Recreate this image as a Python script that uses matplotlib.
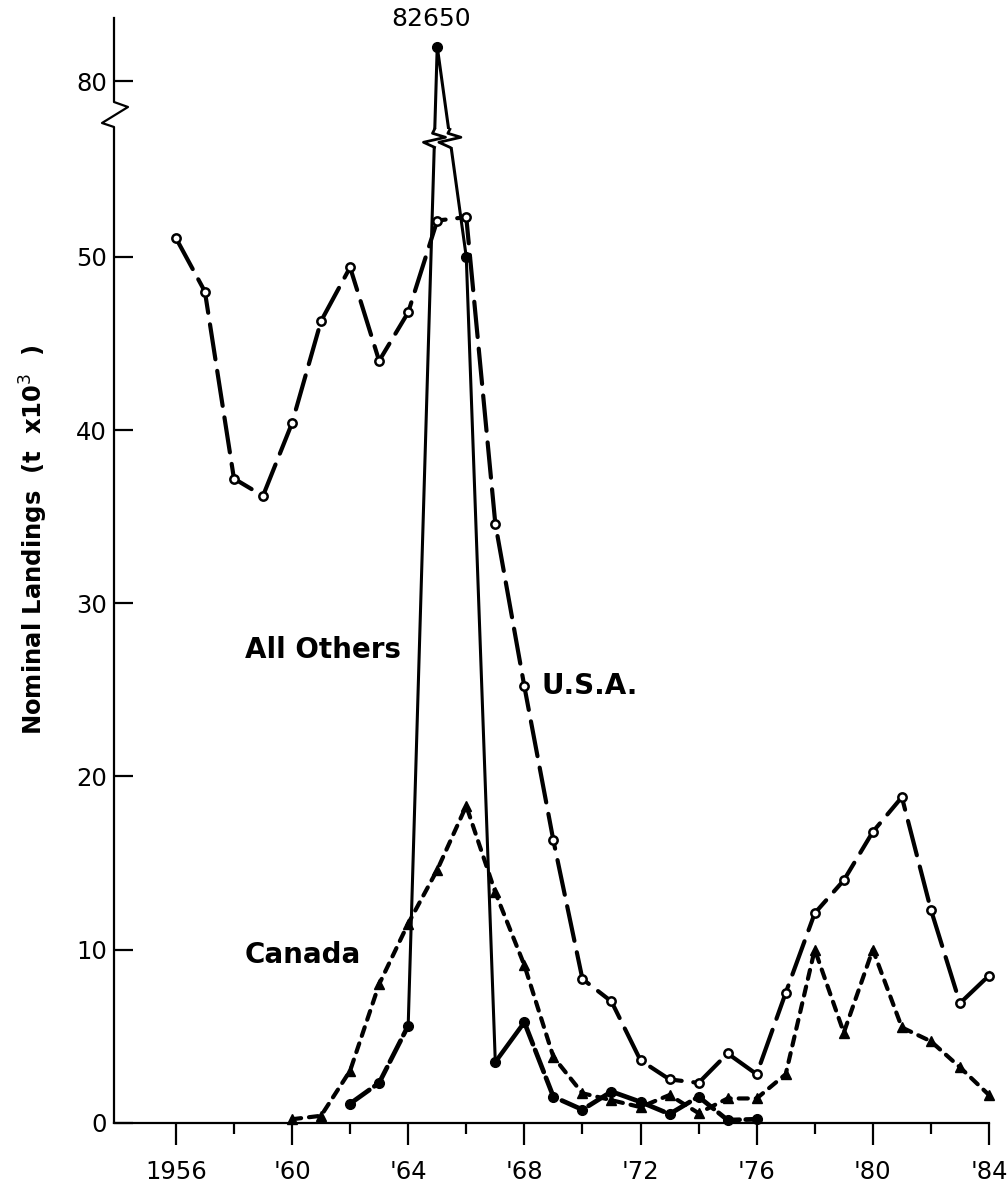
import numpy as np
import matplotlib
matplotlib.use("Agg")
import matplotlib.pyplot as plt
import matplotlib.transforms as mtransforms
from matplotlib.patches import Rectangle
from matplotlib.ticker import FixedLocator, NullLocator

# ---------------- data ----------------
usa_years = list(range(1956, 1985))
usa_vals = [51.1, 48.0, 37.2, 36.2, 40.4, 46.3, 49.4, 44.0, 46.8, 52.1,
            52.3, 34.6, 25.2, 16.3, 8.3, 7.0, 3.6, 2.5, 2.3, 4.0,
            2.8, 7.5, 12.1, 14.0, 16.8, 18.8, 12.3, 6.9, 8.5]

others_years = list(range(1962, 1977))
others_vals = [1.1, 2.3, 5.6, 82.65, 50.0, 3.5, 5.8, 1.5, 0.75, 1.8,
               1.2, 0.5, 1.5, 0.15, 0.2]

canada_years = list(range(1960, 1985))
canada_vals = [0.2, 0.4, 3.0, 8.0, 11.5, 14.6, 18.3, 13.3, 9.1, 3.8,
               1.7, 1.3, 0.9, 1.6, 0.55, 1.4, 1.4, 2.8, 10.0, 5.2,
               10.0, 5.5, 4.7, 3.2, 1.6]

xtick_years = [1956, 1960, 1964, 1968, 1972, 1976, 1980, 1984]
xtick_labels = ["1956", "'60", "'64", "'68", "'72", "'76", "'80", "'84"]
xminor_years = [1958, 1962, 1966, 1970, 1974, 1978, 1982]
ytick_vals = [0, 10, 20, 30, 40, 50, 80]
ytick_labels = ["0", "10", "20", "30", "40", "50", "80"]
peak_label = "82650"
ylabel = "Nominal Landings  (t  x10$^{3}$  )"

# ---------------- broken y scale ----------------
B1, B2, MB2, K = 58.5, 78.0, 58.62, 0.76


def fwd(v):
    v = np.asarray(v, dtype=float)
    return np.where(v <= B1, v,
                    np.where(v <= B2, B1 + (v - B1) * ((MB2 - B1) / (B2 - B1)),
                             MB2 + (v - B2) * K))


def inv(m):
    m = np.asarray(m, dtype=float)
    return np.where(m <= B1, m,
                    np.where(m <= MB2, B1 + (m - B1) * ((B2 - B1) / (MB2 - B1)),
                             B2 + (m - MB2) / K))


TOP_M = 63.8
W, H = 1007, 1190
fig = plt.figure(figsize=(W / 100, H / 100), dpi=100)
ax_l, ax_r, ax_b, ax_t = 114, 989, 1122.7, 18
ax = fig.add_axes([ax_l / W, 1 - ax_b / H, (ax_r - ax_l) / W, (ax_b - ax_t) / H])
ax.set_yscale('function', functions=(fwd, inv))
ax.set_xlim(1953.87, 1984)
ax.set_ylim(0, float(inv(TOP_M)))
axw_px = ax_r - ax_l
axh_px = ax_b - ax_t

FONT = 'DejaVu Sans'

# ---- U.S.A. ----
ax.plot(usa_years, usa_vals, color='black', lw=3, linestyle=(0, (8.5, 2.8)),
        dash_capstyle='round', marker='o', ms=6, mfc='white', mec='black',
        mew=1.8, clip_on=False, zorder=4)

# ---- Canada ----
ax.plot(canada_years, canada_vals, color='black', lw=3, linestyle=(0, (2.2, 1.9)),
        dash_capstyle='round', marker='^', ms=7, mfc='black', mec='black',
        clip_on=False, zorder=3)

# ---- All Others ----
i64 = others_years.index(1964)
i67 = others_years.index(1967)
i68 = others_years.index(1968)
ax.plot(others_years[:i64 + 1], others_vals[:i64 + 1], color='black', lw=3.4,
        linestyle=(0, (5, 1.3)), dash_capstyle='round', zorder=3)
ax.plot(others_years[i64:i67 + 1], others_vals[i64:i67 + 1], color='black',
        lw=2.2, solid_joinstyle='miter', zorder=3)
ax.plot(others_years[i67:i68 + 1], others_vals[i67:i68 + 1], color='black',
        lw=3.2, zorder=3)
ax.plot(others_years[i68:], others_vals[i68:], color='black', lw=3.4,
        linestyle=(0, (5, 1.3)), dash_capstyle='round', zorder=3)
ax.plot(others_years, others_vals, linestyle='none', marker='o', ms=7,
        color='black', clip_on=False, zorder=5)

# ---- break marks ----
bt = mtransforms.blended_transform_factory(ax.transData, ax.transAxes)
mb = (ax_b - 138) / 17.32  # mapped break level
yb_ax = mb / TOP_M
ipk = others_years.index(1965)
m64, mpk, m66 = fwd(others_vals[i64]), fwd(others_vals[ipk]), fwd(others_vals[ipk + 1])
xs_break = [others_years[i64] + float((mb - m64) / (mpk - m64)),
            others_years[ipk] + float((mpk - mb) / (mpk - m66))]
for xb in xs_break:
    ax.add_patch(Rectangle((xb - 0.3, yb_ax - 9 / axh_px), 0.6, 18 / axh_px,
                           transform=bt, facecolor='white', edgecolor='none',
                           zorder=6, clip_on=False))
    zz = [(0, -9), (-11, -4), (11, 1), (-2, 5), (0, 9)]
    ax.plot([xb + dx / 29.04 for dx, dy in zz],
            [yb_ax + dy / axh_px for dx, dy in zz],
            transform=bt, color='black', lw=2.0, zorder=7, clip_on=False)

# left spine with zigzag break
for s in ['top', 'right', 'left']:
    ax.spines[s].set_visible(False)
ax.spines['bottom'].set_linewidth(1.6)


def ya(py):
    return (ax_b - py) / axh_px


spine_x = [0, 0, 14 / axw_px, -12 / axw_px, 0, 0]
spine_y = [1, ya(102), ya(107), ya(123), ya(127), 0]
ax.plot(spine_x, spine_y, transform=ax.transAxes, color='black', lw=1.6,
        clip_on=False, zorder=6)

# ---- ticks ----
ax.xaxis.set_major_locator(FixedLocator(xtick_years))
ax.xaxis.set_minor_locator(FixedLocator(xminor_years))
ax.set_xticklabels(xtick_labels, fontsize=17.5, family=FONT)
ax.yaxis.set_major_locator(FixedLocator(ytick_vals))
ax.yaxis.set_minor_locator(NullLocator())
ax.set_yticklabels(ytick_labels, fontsize=17.5, family=FONT)
ax.tick_params(axis='x', which='major', direction='out', length=15.5, width=1.6, pad=11)
ax.tick_params(axis='x', which='minor', direction='out', length=8, width=1.6)
ax.tick_params(axis='y', which='major', direction='in', length=14, width=1.6, pad=5)

ax.set_ylabel(ylabel, fontsize=17.5, family=FONT, fontweight='bold')
ax.yaxis.set_label_coords((50 - ax_l) / axw_px, ya(540))

# ---- annotations ----
ax.text(1964.78, ya(19), peak_label, transform=bt, ha='center', va='center',
        fontsize=18, family=FONT, clip_on=False)
ax.text(1961.06, 27.3, "All Others", ha='center', va='center', fontsize=20,
        family=FONT, fontweight='bold')
ax.text(1968.6, 25.2, "U.S.A.", ha='left', va='center', fontsize=20,
        family=FONT, fontweight='bold')
ax.text(1958.38, 9.7, "Canada", ha='left', va='center', fontsize=20,
        family=FONT, fontweight='bold')

fig.savefig("out.png", dpi=100)
